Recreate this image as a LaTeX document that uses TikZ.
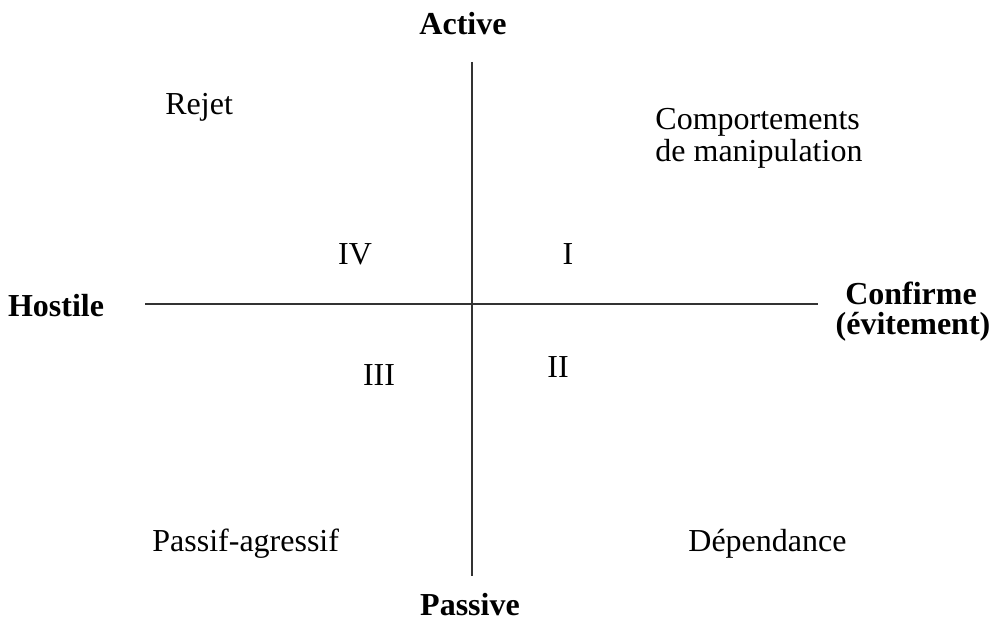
\documentclass[tikz,border=0pt]{standalone}
\usepackage{fontspec}
\setmainfont{Liberation Serif}
\begin{document}
\begin{tikzpicture}[x=0.5pt,y=-0.5pt,
  lbl/.style={inner sep=0pt,font=\fontsize{16}{16}\selectfont},
  axislbl/.style={inner sep=0pt,font=\fontsize{16}{16}\selectfont\bfseries},
  axisline/.style={line width=0.6pt,draw=black!80}]
\useasboundingbox[fill=white] (0,0) rectangle (989,619);
\coordinate (vtop) at (472,62);
\coordinate (vbot) at (472,576);
\coordinate (hl) at (145,304);
\coordinate (hr) at (818,304);
\draw[axisline] (vtop) -- (vbot);
\draw[axisline] (hl) -- (hr);
\node[axislbl,anchor=base] (active) at (463,35) {Active};
\node[axislbl,anchor=base] (passive) at (470,615) {Passive};
\node[axislbl,anchor=base] (hostile) at (56,317) {Hostile};
\node[axislbl,anchor=base] (confirme) at (911,305) {Confirme};
\node[axislbl,anchor=base] (evit) at (913,335) {(évitement)};
\node[lbl,anchor=base west] (rejet) at (165,115) {Rejet};
\node[lbl,anchor=base west] (comp) at (655,130) {Comportements};
\node[lbl,anchor=base west] (manip) at (655,162) {de manipulation};
\node[lbl,anchor=base] (q4) at (355,265) {IV};
\node[lbl,anchor=base] (q1) at (568,265) {I};
\node[lbl,anchor=base] (q3) at (379,386) {III};
\node[lbl,anchor=base] (q2) at (558,378) {II};
\node[lbl,anchor=base west] (passif) at (152,551) {Passif-agressif};
\node[lbl,anchor=base west] (dep) at (688,551) {Dépendance};
\end{tikzpicture}
\end{document}
